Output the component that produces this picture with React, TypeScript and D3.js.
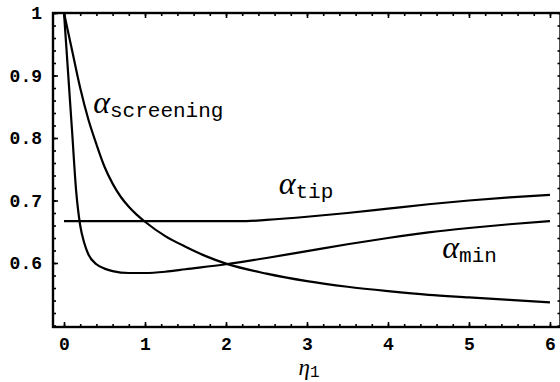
import { useEffect, useRef } from "react";
import * as d3 from "d3";

// curve samples
const etaScreening = [0, 0.1, 0.2, 0.3, 0.4, 0.5, 0.6, 0.7, 0.8, 0.9, 1.0, 1.25, 1.5, 1.75, 2.0, 2.5, 3.0, 3.5, 4.0, 4.5, 5.0, 5.5, 6.0];
const alphaScreening = [1.0, 0.94, 0.88, 0.83, 0.79, 0.754, 0.727, 0.706, 0.69, 0.677, 0.666, 0.643, 0.626, 0.611, 0.599, 0.583, 0.571, 0.562, 0.555, 0.549, 0.545, 0.541, 0.537];

const etaMin = [0, 0.05, 0.1, 0.15, 0.2, 0.25, 0.3, 0.4, 0.5, 0.6, 0.8, 1.0, 1.25, 1.5, 2.0, 2.5, 3.0, 3.5, 4.0, 4.5, 5.0, 5.5, 6.0];
const alphaMin = [1.0, 0.905, 0.81, 0.715, 0.66, 0.632, 0.614, 0.598, 0.591, 0.587, 0.584, 0.584, 0.586, 0.59, 0.598, 0.608, 0.619, 0.63, 0.64, 0.649, 0.656, 0.662, 0.667];

const etaTip = [0, 0.5, 1.0, 1.5, 2.0, 2.25, 2.5, 3.0, 3.5, 4.0, 4.5, 5.0, 5.5, 6.0];
const alphaTip = [0.667, 0.667, 0.667, 0.667, 0.667, 0.667, 0.669, 0.674, 0.68, 0.687, 0.694, 0.7, 0.705, 0.709];

const xTickValues = [0, 1, 2, 3, 4, 5, 6];
const yTickValues = [0.6, 0.7, 0.8, 0.9, 1];

const curveLabels = [
  { sub: "screening", eta: 0.36, alpha: 0.84 },
  { sub: "tip", eta: 2.65, alpha: 0.711 },
  { sub: "min", eta: 4.67, alpha: 0.608 },
];

function App() {
  const ref = useRef<SVGSVGElement>(null);

  useEffect(() => {
    const left = 53,
      right = 560.5,
      top = 13,
      bottom = 327;

    const svg = d3.select(ref.current);
    svg.selectAll("*").remove();

    var x = d3.scaleLinear().domain([-0.136, 6.13]).range([left, right]);
    var y = d3.scaleLinear().domain([0.4976, 1]).range([bottom, top]);

    const mono = "'Liberation Mono', 'Courier New', monospace";
    const serif = "'Liberation Serif', 'Times New Roman', serif";

    const minorX = d3.range(0, 6.01, 0.2);
    const minorY = d3.range(0.5, 1.001, 0.02);

    const styleAxis = (g: any) => {
      g.select(".domain").remove();
      g.selectAll("line").attr("stroke", "#000").attr("stroke-width", 1.6);
      g.selectAll("text")
        .attr("fill", "#000")
        .style("font-family", mono)
        .style("font-size", "18px")
        .style("font-weight", "bold");
    };

    // bottom axis with labels and minor ticks
    svg
      .append("g")
      .attr("transform", `translate(0,${bottom})`)
      .call(d3.axisBottom(x).tickValues(minorX).tickSize(-3).tickSizeOuter(0).tickFormat(() => ""))
      .call(styleAxis);
    svg
      .append("g")
      .attr("transform", `translate(0,${bottom})`)
      .call(d3.axisBottom(x).tickValues(xTickValues).tickSize(-5).tickSizeOuter(0).tickPadding(10).tickFormat(d3.format("d")))
      .call(styleAxis);

    // top axis, ticks only
    svg
      .append("g")
      .attr("transform", `translate(0,${top})`)
      .call(d3.axisTop(x).tickValues(minorX).tickSize(-3).tickSizeOuter(0).tickFormat(() => ""))
      .call(styleAxis);
    svg
      .append("g")
      .attr("transform", `translate(0,${top})`)
      .call(d3.axisTop(x).tickValues(xTickValues).tickSize(-5).tickSizeOuter(0).tickFormat(() => ""))
      .call(styleAxis);

    // left axis
    svg
      .append("g")
      .attr("transform", `translate(${left},0)`)
      .call(d3.axisLeft(y).tickValues(minorY).tickSize(-3).tickSizeOuter(0).tickFormat(() => ""))
      .call(styleAxis);
    svg
      .append("g")
      .attr("transform", `translate(${left},0)`)
      .call(
        d3
          .axisLeft(y)
          .tickValues(yTickValues)
          .tickSize(-5)
          .tickSizeOuter(0)
          .tickPadding(11)
          .tickFormat((d: any) => (d === 1 ? "1" : d3.format(".1f")(d)))
      )
      .call(styleAxis);

    // right axis, ticks only
    svg
      .append("g")
      .attr("transform", `translate(${right},0)`)
      .call(d3.axisRight(y).tickValues(minorY).tickSize(-3).tickSizeOuter(0).tickFormat(() => ""))
      .call(styleAxis);

    // frame
    svg
      .append("rect")
      .attr("x", left)
      .attr("y", top)
      .attr("width", right - left)
      .attr("height", bottom - top)
      .attr("fill", "none")
      .attr("stroke", "#000")
      .attr("stroke-width", 2.4);

    // curves
    const valueLine = d3
      .line<[number, number]>()
      .x((d) => x(d[0]))
      .y((d) => y(d[1]))
      .curve(d3.curveMonotoneX);

    const series: [number[], number[]][] = [
      [etaScreening, alphaScreening],
      [etaMin, alphaMin],
      [etaTip, alphaTip],
    ];
    series.forEach(([xs, ys]) => {
      svg
        .append("path")
        .datum(xs.map((v, i) => [v, ys[i]] as [number, number]))
        .attr("fill", "none")
        .attr("stroke", "#000")
        .attr("stroke-width", 2.2)
        .attr("d", valueLine);
    });

    // curve labels
    curveLabels.forEach((l) => {
      const t = svg
        .append("text")
        .attr("x", x(l.eta))
        .attr("y", y(l.alpha))
        .attr("fill", "#000");
      t.append("tspan").style("font-family", serif).style("font-style", "italic").style("font-size", "32px").text("α");
      t.append("tspan").attr("dy", 4).style("font-family", mono).style("font-size", "21px").text(l.sub);
    });

    // x label
    const xl = svg
      .append("text")
      .attr("x", x(3) + 2)
      .attr("y", 375)
      .attr("text-anchor", "middle")
      .attr("fill", "#000");
    xl.append("tspan").style("font-family", serif).style("font-style", "italic").style("font-size", "23px").text("η");
    xl.append("tspan").attr("dy", 2).style("font-family", mono).style("font-size", "16px").text("1");
  }, []);

  return (
    <svg
      ref={ref}
      width={560}
      height={382}
      style={{ position: "absolute", left: 0, top: 0, background: "#fff" }}
    ></svg>
  );
}

export default App;
